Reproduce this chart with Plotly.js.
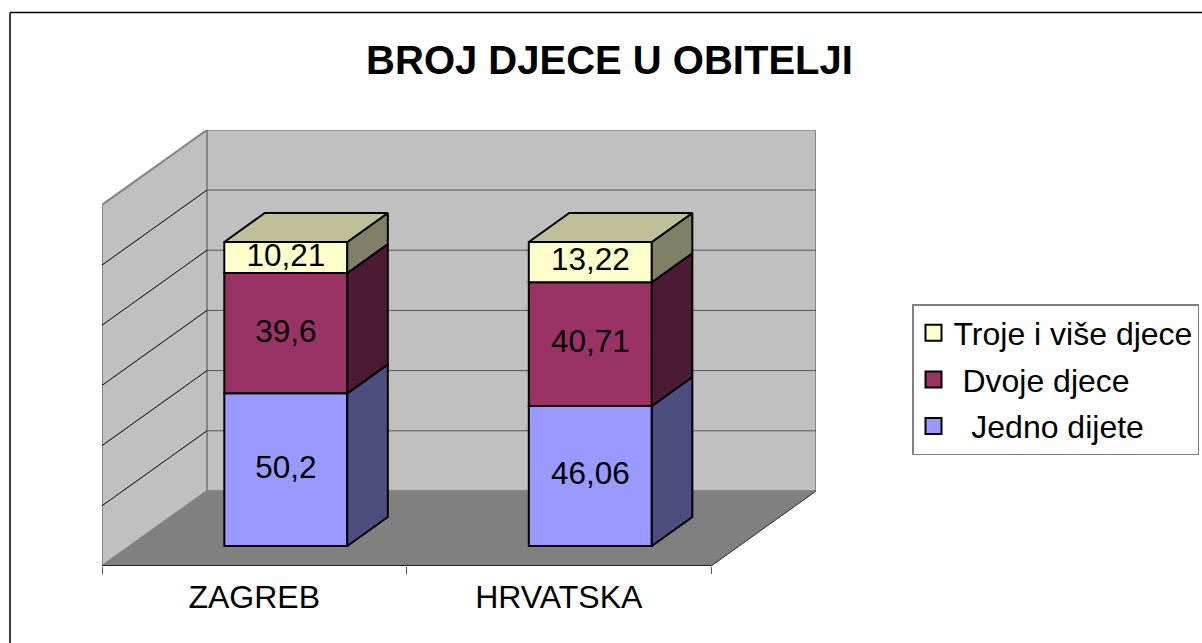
<!DOCTYPE html>
<html><head><meta charset="utf-8">
<script src="https://cdn.plot.ly/plotly-3.0.1.min.js"></script>
<style>html,body{margin:0;padding:0;background:#fff}</style></head>
<body><div id="chart" style="width:1202px;height:643px"></div>
<script>
const categories = ['ZAGREB', 'HRVATSKA'];
const jednoDijete = [50.2, 46.06];
const dvojeDjece = [39.6, 40.71];
const trojeDjece = [10.21, 13.22];
const jednoLabels = ['50,2', '46,06'];
const dvojeLabels = ['39,6', '40,71'];
const trojeLabels = ['10,21', '13,22'];
const wallLevels = [0, 20, 40, 60, 80, 100, 120];

const W = 1202, H = 643;
const FONT = '"Liberation Sans", Arial, sans-serif';
// oblique projection, expressed in axis units
const pxX = 304.5, pxY = 3.04;           // px per category, px per value
const L = 102, R = 816, B = 566, T = 130;
const depthX = 105 / pxX, depthY = 75 / pxY;
const wallScale = 0.99;
const p = (x, v, d) => [x + d * depthX, v + d * depthY];

const barFront = 0.267, barBack = 0.653, barW = 123 / pxX, barNudge = 3.5 / pxX, labelLift = -0.5 / pxY;
const seriesDefs = [
  {name: '\u00a0\u00a0Jedno dijete', vals: jednoDijete, txt: jednoLabels, color: '#9999ff', side: '#4d4d80'},
  {name: '\u00a0Dvoje djece', vals: dvojeDjece, txt: dvojeLabels, color: '#993366', side: '#4d1a33'},
  {name: 'Troje i više djece', vals: trojeDjece, txt: trojeLabels, color: '#ffffcc', side: '#808066', roof: '#bfbf99'}
];
const traces = [];
const labelTraces = [];
const stack = categories.map(() => 0);
const xc = i => i + 0.5 + barNudge;
seriesDefs.forEach(s => {
  const bases = stack.slice();
  const by = barFront * depthY;
  const fx = categories.map((c, i) => xc(i) + barFront * depthX);
  // front faces
  traces.push({type: 'bar', x: fx, y: s.vals,
    base: bases.map(b => b + by), width: barW, showlegend: false, hoverinfo: 'skip',
    marker: {color: s.color, line: {color: '#000', width: 2}}});
  labelTraces.push({type: 'scatter', mode: 'text', x: fx, y: s.vals.map((v, i) => bases[i] + by + v / 2 + labelLift),
    text: s.txt, textposition: 'middle center', textfont: {family: FONT, size: 31.5, color: '#000'},
    showlegend: false, hoverinfo: 'skip', cliponaxis: false});
  categories.forEach((c, i) => {
    const x0 = xc(i) - barW / 2, x1 = xc(i) + barW / 2;
    const b = bases[i], v = b + s.vals[i];
    const side = [[x1, b, barFront], [x1, b, barBack], [x1, v, barBack], [x1, v, barFront], [x1, b, barFront]].map(q => p(...q));
    traces.push({type: 'scatter', mode: 'lines', x: side.map(q => q[0]), y: side.map(q => q[1]), fill: 'toself', fillcolor: s.side,
      line: {color: '#000', width: 2}, showlegend: false, hoverinfo: 'skip'});
    if (s.roof) {
      const r = [[x0, v, barFront], [x0, v, barBack], [x1, v, barBack], [x1, v, barFront], [x0, v, barFront]].map(q => p(...q));
      traces.push({type: 'scatter', mode: 'lines', x: r.map(q => q[0]), y: r.map(q => q[1]), fill: 'toself', fillcolor: s.roof,
        line: {color: '#000', width: 2}, showlegend: false, hoverinfo: 'skip'});
    }
  });
  stack.forEach((b, i) => stack[i] = b + s.vals[i]);
});
labelTraces.forEach(t => traces.push(t));
// legend keys, top entry first
seriesDefs.slice().reverse().forEach(s => traces.push({type: 'scatter', mode: 'markers', x: [null], y: [null], name: s.name,
  legendgroup: s.name, marker: {symbol: 'square', size: 16, color: s.color, line: {color: '#000', width: 2}}}));

const xMax = (R - L) / pxX, yMax = (B - T) / pxY;
const poly = pts => 'M' + pts.map(q => q.join(',')).join('L') + 'Z';
const wallTop = wallLevels[wallLevels.length - 1] * wallScale;
const wallFill = '#c0c0c0', wallEdge = '#868686';
const shapes = [
  {type: 'path', path: poly([p(0, 0, 1), p(2, 0, 1), p(2, wallTop, 1), p(0, wallTop, 1)]), fillcolor: wallFill, line: {color: wallEdge, width: 2}, layer: 'below'},
  {type: 'path', path: poly([p(0, 0, 0), p(0, 0, 1), p(0, wallTop, 1), p(0, wallTop, 0)]), fillcolor: wallFill, line: {color: wallEdge, width: 2}, layer: 'below'},
  {type: 'path', path: poly([p(0, 0, 0), p(2, 0, 0), p(2, 0, 1), p(0, 0, 1)]), fillcolor: '#808080', line: {color: '#808080', width: 1}, layer: 'below'},
  {type: 'line', x0: p(2, 0, 0)[0], y0: 0, x1: p(2, 0, 1)[0], y1: p(2, 0, 1)[1], line: {color: '#333', width: 1}, layer: 'below'},
  {type: 'line', x0: 0, y0: 0, x1: 2, y1: 0, line: {color: '#222', width: 2}, layer: 'below'}
];
wallLevels.slice(1, -1).forEach(v => {
  const lv = v * wallScale, a = p(0, lv, 0), b = p(0, lv, 1), c = p(2, lv, 1);
  shapes.push({type: 'line', x0: a[0], y0: a[1], x1: b[0], y1: b[1], line: {color: '#000', width: 1}, layer: 'below'});
  shapes.push({type: 'line', x0: b[0], y0: b[1], x1: c[0], y1: c[1], line: {color: '#555', width: 1}, layer: 'below'});
});
// outer chart frame: only its top and left edges fall inside the picture
shapes.push({type: 'line', xref: 'paper', yref: 'paper', x0: 10 / W, x1: 1, y0: 1 - 12.5 / H, y1: 1 - 12.5 / H, line: {color: '#000', width: 1.5}, layer: 'below'});
shapes.push({type: 'line', xref: 'paper', yref: 'paper', x0: 10 / W, x1: 10 / W, y0: 0, y1: 1 - 12.5 / H, line: {color: '#000', width: 1.5}, layer: 'below'});

const layout = {
  width: W, height: H, margin: {l: 0, r: 0, t: 0, b: 0, autoexpand: false},
  paper_bgcolor: '#fff', plot_bgcolor: 'rgba(0,0,0,0)', showlegend: true,
  title: {text: '<b>BROJ DJECE U OBITELJI</b>', font: {family: FONT, size: 40, color: '#000'},
    x: 609.5 / W, xanchor: 'center', y: 1 - 60 / H, yanchor: 'middle'},
  xaxis: {domain: [L / W, R / W], range: [0, xMax], showgrid: false, zeroline: false, showline: false,
    tickmode: 'array', tickvals: categories.map((c, i) => i + 0.5), ticktext: categories, ticks: '', ticklen: 0,
    ticklabelstandoff: 9, tickfont: {family: FONT, size: 32, color: '#000'},
    minor: {tickmode: 'array', tickvals: [0, 1, 2], ticks: 'outside', ticklen: 7, tickcolor: '#555', tickwidth: 1, showgrid: false}},
  yaxis: {domain: [1 - B / H, 1 - T / H], range: [0, yMax], visible: false, showgrid: false, zeroline: false},
  barmode: 'overlay', shapes,
  legend: {x: 912 / W, xanchor: 'left', y: 1 - 304 / H, yanchor: 'top', bgcolor: '#fff',
    bordercolor: '#808080', borderwidth: 1.5, traceorder: 'grouped', tracegroupgap: 2, itemwidth: 30,
    entrywidth: 224, entrywidthmode: 'pixels',
    font: {family: FONT, size: 32, color: '#000'}, itemclick: false, itemdoubleclick: false}
};
Plotly.newPlot('chart', traces, layout, {staticPlot: true, displayModeBar: false});
</script></body></html>
